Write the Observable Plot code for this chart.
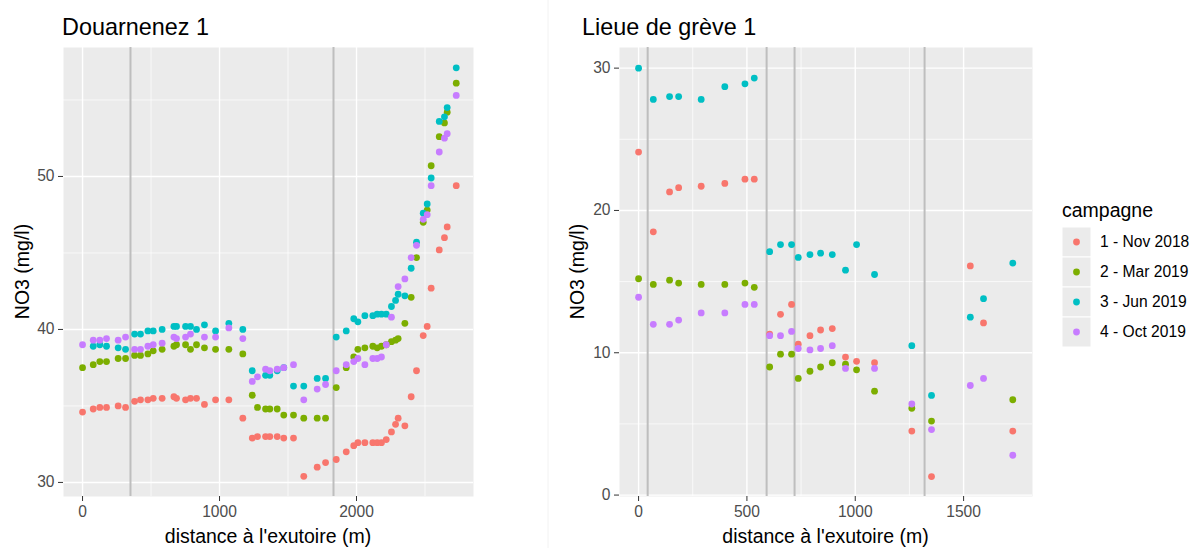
<!DOCTYPE html>
<html><head><meta charset="utf-8">
<script src="https://cdn.jsdelivr.net/npm/d3@7"></script>
<script src="https://cdn.jsdelivr.net/npm/@observablehq/plot@0.6"></script>
<style>
body{margin:0;background:#fff;}
#root{position:relative;width:1198px;height:548px;overflow:hidden;font-family:"Liberation Sans",Arial,sans-serif;}
#root > svg, #root > div{position:absolute;}
</style></head><body><div id="root"></div>
<script>
// ---- data ----
const campaigns = ["1 - Nov 2018", "2 - Mar 2019", "3 - Jun 2019", "4 - Oct 2019"];
const colors = ["#F8766D", "#7CAE00", "#00BFC4", "#C77CFF"];

// Douarnenez 1
const titleL = "Douarnenez 1";
const distL = [0,78,126,175,260,314,380,423,477,516,581,667,686,752,788,832,890,971,1068,1170,1239,1277,1336,1367,1421,1469,1540,1615,1713,1774,1852,1925,1980,2010,2061,2119,2151,2182,2217,2255,2285,2304,2353,2399,2438,2487,2516,2545,2604,2642,2662,2728];
const novL = [34.6,34.8,34.9,34.9,35.0,34.9,35.3,35.4,35.4,35.5,35.5,35.6,35.5,35.4,35.5,35.5,35.1,35.4,35.4,34.2,32.9,33.0,33.0,33.0,33.0,32.9,32.9,30.4,31.0,31.3,31.5,32.0,32.4,32.6,32.6,32.6,32.6,32.6,32.8,33.3,33.8,34.2,33.7,35.6,37.3,39.6,40.2,42.7,45.2,46.0,46.7,49.4];
const marL = [37.5,37.7,37.9,37.9,38.1,38.1,38.3,38.3,38.4,38.6,38.7,38.9,39.0,39.0,38.7,39.0,38.8,38.7,38.7,38.4,35.7,34.9,34.8,34.8,34.8,34.4,34.4,34.2,34.2,34.2,36.2,37.5,38.2,38.7,38.8,38.9,38.8,38.9,39.0,39.2,39.3,39.4,40.4,42.1,44.7,47.0,47.8,50.7,52.6,53.5,54.2,56.1];
const junL = [null,38.9,39.0,38.9,38.8,38.7,39.7,39.7,39.9,39.9,40.0,40.2,40.2,40.2,40.2,40.0,40.3,39.9,40.4,40.0,37.3,null,37.0,37.0,37.3,37.5,36.3,36.3,36.8,36.8,39.5,39.9,40.7,40.5,40.9,40.9,41.0,41.0,41.0,41.5,41.9,42.3,42.2,44.0,45.7,47.6,48.2,49.9,53.6,53.9,54.5,57.1];
const octL = [39.0,39.3,39.3,39.4,39.3,39.5,38.7,38.7,38.9,39.0,39.1,39.5,39.4,39.5,39.7,null,39.5,39.5,40.1,39.4,36.6,36.9,37.4,37.3,37.4,37.5,37.7,35.4,36.1,36.4,37.3,37.7,37.9,38.1,37.7,38.1,38.1,38.2,39.0,40.8,null,42.8,43.3,44.7,45.5,47.2,47.5,49.4,51.6,52.5,52.8,55.3];
const vlinesL = [350, 1832];
const xTicksL = [0, 1000, 2000];
const xMinorL = [500, 1500, 2500];
const yTicksL = [30, 40, 50];
const yMinorL = [35, 45, 55];

// Lieue de grève 1
const titleR = "Lieue de grève 1";
const distR = [0,68,143,185,289,398,491,534,605,655,706,737,791,840,894,955,1006,1089,1261,1352,1531,1592,1727];
const novR = [24.1,18.5,21.3,21.6,21.7,21.9,22.2,22.2,11.3,12.7,13.4,10.6,11.2,11.6,11.7,9.7,9.4,9.3,4.5,1.3,16.1,12.1,4.5];
const marR = [15.2,14.8,15.1,14.9,14.8,14.8,14.9,14.6,9.0,9.9,9.9,8.2,8.7,9.0,9.3,9.2,8.8,7.3,6.1,5.2,null,null,6.7];
const junR = [30.0,27.8,28.0,28.0,27.8,28.7,28.9,29.3,17.1,17.6,17.6,16.7,16.9,17.0,16.9,15.8,17.6,15.5,10.5,7.0,12.5,13.8,16.3];
const octR = [13.9,12.0,12.0,12.3,12.8,12.8,13.4,13.4,11.2,11.2,11.5,10.3,10.2,10.3,10.5,8.9,null,8.9,6.4,4.6,7.7,8.2,2.8];
const vlinesR = [42, 591, 720, 1320];
const xTicksR = [0, 500, 1000, 1500];
const xMinorR = [250, 750, 1250];
const yTicksR = [0, 10, 20, 30];
const yMinorR = [5, 15, 25];

const xTitle = "distance à l'exutoire (m)";
const yTitle = "NO3 (mg/l)";
const legendTitle = "campagne";

// ---- drawing ----
const FONT = "Liberation Sans, Arial, sans-serif";
function rowsOf(dist, series) {
  const rows = [];
  series.forEach((vals, k) => vals.forEach((v, i) => {
    if (v != null) rows.push({d: dist[i], v, c: campaigns[k]});
  }));
  return rows;
}
function panel({rows, xDomain, yDomain, xTicks, xMinor, yTicks, yMinor, vlines, width, ml, mr}) {
  return Plot.plot({
    width, height: 548, marginLeft: ml, marginRight: mr, marginTop: 47, marginBottom: 52,
    style: {fontFamily: FONT, fontSize: "15.6px", color: "#4D4D4D", background: "transparent", overflow: "visible"},
    x: {domain: xDomain, label: null},
    y: {domain: yDomain, label: null},
    color: {domain: campaigns, range: colors},
    marks: [
      Plot.frame({fill: "#EBEBEB", stroke: "none"}),
      Plot.ruleX(xMinor, {stroke: "white", strokeWidth: 0.7}),
      Plot.ruleY(yMinor, {stroke: "white", strokeWidth: 0.7}),
      Plot.ruleX(xTicks, {stroke: "white", strokeWidth: 1.4}),
      Plot.ruleY(yTicks, {stroke: "white", strokeWidth: 1.4}),
      Plot.ruleX(vlines, {stroke: "#BEBEBE", strokeWidth: 2}),
      Plot.dot(rows, {x: "d", y: "v", fill: "c", r: 3.4}),
      Plot.axisX(xTicks, {tickSize: 5, tickPadding: 4, stroke: "#333333", fill: "#4D4D4D", tickFormat: (d) => String(d)}),
      Plot.axisY(yTicks, {tickSize: 5, tickPadding: 4, stroke: "#333333", fill: "#4D4D4D", tickFormat: (d) => String(d)})
    ]
  });
}

const root = document.getElementById("root");
const left = panel({
  rows: rowsOf(distL, [novL, marL, junL, octL]),
  xDomain: [-139, 2854], yDomain: [29.08, 58.43],
  xTicks: xTicksL, xMinor: xMinorL, yTicks: yTicksL, yMinor: yMinorL, vlines: vlinesL,
  width: 548, ml: 63, mr: 75
});
left.style.left = "0px"; left.style.top = "0px";
root.appendChild(left);

const right = panel({
  rows: rowsOf(distR, [novR, marR, junR, octR]),
  xDomain: [-88, 1818], yDomain: [-0.1, 31.45],
  xTicks: xTicksR, xMinor: xMinorR, yTicks: yTicksR, yMinor: yMinorR, vlines: vlinesR,
  width: 650, ml: 71, mr: 166
});
right.style.left = "548px"; right.style.top = "0px";
root.appendChild(right);

// text overlay + legend
const ov = d3.select(root).append("svg").attr("width", 1198).attr("height", 548)
  .style("left", "0px").style("top", "0px").style("pointer-events", "none")
  .style("font-family", FONT);
ov.append("line").attr("x1", 548).attr("x2", 548).attr("y1", 0).attr("y2", 548).attr("stroke", "#F2F2F2");
ov.append("text").attr("x", 62).attr("y", 35).attr("font-size", 23.4).attr("fill", "#000").text(titleL);
ov.append("text").attr("x", 582).attr("y", 35).attr("font-size", 23.4).attr("fill", "#000").text(titleR);
[[268, 22], [825.5, 577]].forEach(([cx, yx]) => {
  ov.append("text").attr("x", cx).attr("y", 543).attr("text-anchor", "middle").attr("font-size", 19.5).text(xTitle);
  ov.append("text").attr("transform", `translate(${yx + 7},271.5) rotate(-90)`).attr("text-anchor", "middle").attr("font-size", 19.5).text(yTitle);
});
ov.append("text").attr("x", 1062).attr("y", 217).attr("font-size", 19.5).text(legendTitle);
campaigns.forEach((c, i) => {
  const y0 = 227 + i * 30;
  ov.append("rect").attr("x", 1062).attr("y", y0).attr("width", 29).attr("height", 30).attr("fill", "#EBEBEB").attr("stroke", "white").attr("stroke-width", 1);
  ov.append("circle").attr("cx", 1076.5).attr("cy", y0 + 15).attr("r", 3.4).attr("fill", colors[i]);
  ov.append("text").attr("x", 1100).attr("y", y0 + 15).attr("dy", "0.35em").attr("font-size", 15.6).attr("fill", "#000").text(c);
});
</script>
</body></html>
